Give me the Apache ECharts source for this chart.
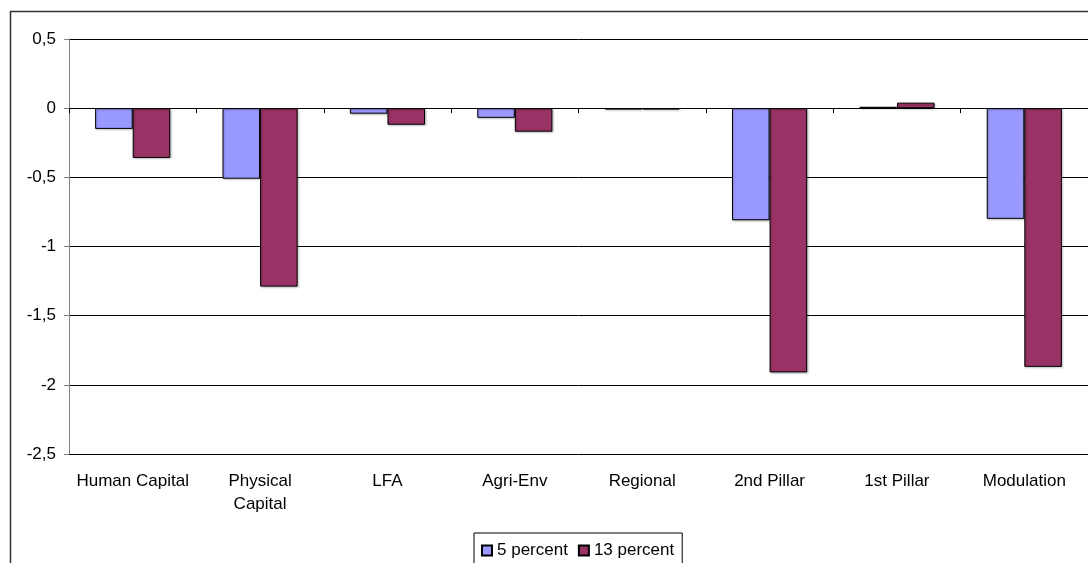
<!DOCTYPE html>
<html>
<head>
<meta charset="utf-8">
<script src="https://cdn.jsdelivr.net/npm/echarts@6/dist/echarts.min.js"></script>
<style>
  html, body { margin: 0; padding: 0; background: #fff; }
  #chart { width: 1088px; height: 563px; }
</style>
</head>
<body>
<div id="chart"></div>
<script>
// Policy measures on the horizontal axis
const categories = ['Human Capital', 'Physical\nCapital', 'LFA', 'Agri-Env', 'Regional', '2nd Pillar', '1st Pillar', 'Modulation'];
// Effect under each scenario
const fivePercent = [-0.15, -0.51, -0.04, -0.07, -0.01, -0.81, 0.01, -0.80];
const thirteenPercent = [-0.36, -1.29, -0.12, -0.17, -0.01, -1.91, 0.04, -1.87];
// Value axis range and step
const yMin = -2.5;
const yMax = 0.5;
const yStep = 0.5;

const FONT = '"Liberation Sans", Arial, sans-serif';
const FONT_SIZE = 17;

const chart = echarts.init(document.getElementById('chart'), null, { renderer: 'canvas' });

const barStyle = (color) => ({
  color: color,
  borderColor: '#000',
  borderWidth: 1,
  shadowColor: 'rgba(0,0,0,0.25)',
  shadowBlur: 2,
  shadowOffsetX: 1,
  shadowOffsetY: 1
});

chart.setOption({
  animation: false,
  backgroundColor: '#fff',
  textStyle: { fontFamily: FONT },
  graphic: [{
    type: 'rect',
    shape: { x: 10.5, y: 11.5, width: 1200, height: 700 },
    style: { fill: 'none', stroke: '#333', lineWidth: 1.5 },
    z: 100
  }],
  grid: { left: 69, top: 39, right: -1, bottom: 109, containLabel: false },
  legend: {
    data: ['5 percent', '13 percent'],
    left: 474,
    top: 533,
    orient: 'horizontal',
    icon: 'rect',
    itemWidth: 10,
    itemHeight: 10,
    itemGap: 10,
    padding: [9, 8, 9, 7],
    borderColor: '#000',
    borderWidth: 1,
    textStyle: { fontSize: FONT_SIZE, color: '#000', fontFamily: FONT }
  },
  xAxis: [{
    type: 'category',
    data: categories,
    position: 'bottom',
    axisLine: { show: false, onZero: false },
    axisTick: { show: false },
    axisLabel: {
      color: '#000', fontSize: FONT_SIZE, fontFamily: FONT,
      margin: 16, lineHeight: 23, interval: 0
    },
    splitLine: { show: false }
  }, {
    type: 'category',
    data: categories,
    position: 'top',
    axisLine: { show: true, onZero: true, lineStyle: { color: '#000', width: 1 } },
    axisTick: { show: true, inside: true, length: 5, lineStyle: { color: '#000' } },
    axisLabel: { show: false },
    splitLine: { show: false }
  }],
  yAxis: {
    type: 'value',
    min: yMin,
    max: yMax,
    interval: yStep,
    axisLine: { show: true, lineStyle: { color: '#808080', width: 1 } },
    axisTick: { show: true, length: 5, lineStyle: { color: '#808080' } },
    axisLabel: {
      color: '#000', fontSize: FONT_SIZE, fontFamily: FONT, margin: 13,
      formatter: (v) => String(Math.round(v * 10) / 10).replace('.', ',')
    },
    splitLine: { show: true, lineStyle: { color: '#000', width: 1 } }
  },
  series: [{
    name: '5 percent',
    type: 'bar',
    xAxisIndex: 0,
    data: fivePercent,
    barGap: '0%',
    barCategoryGap: '41%',
    itemStyle: barStyle('#9999FF')
  }, {
    name: '13 percent',
    type: 'bar',
    xAxisIndex: 0,
    data: thirteenPercent,
    barGap: '0%',
    barCategoryGap: '41%',
    itemStyle: barStyle('#993366')
  }]
});
</script>
</body>
</html>
